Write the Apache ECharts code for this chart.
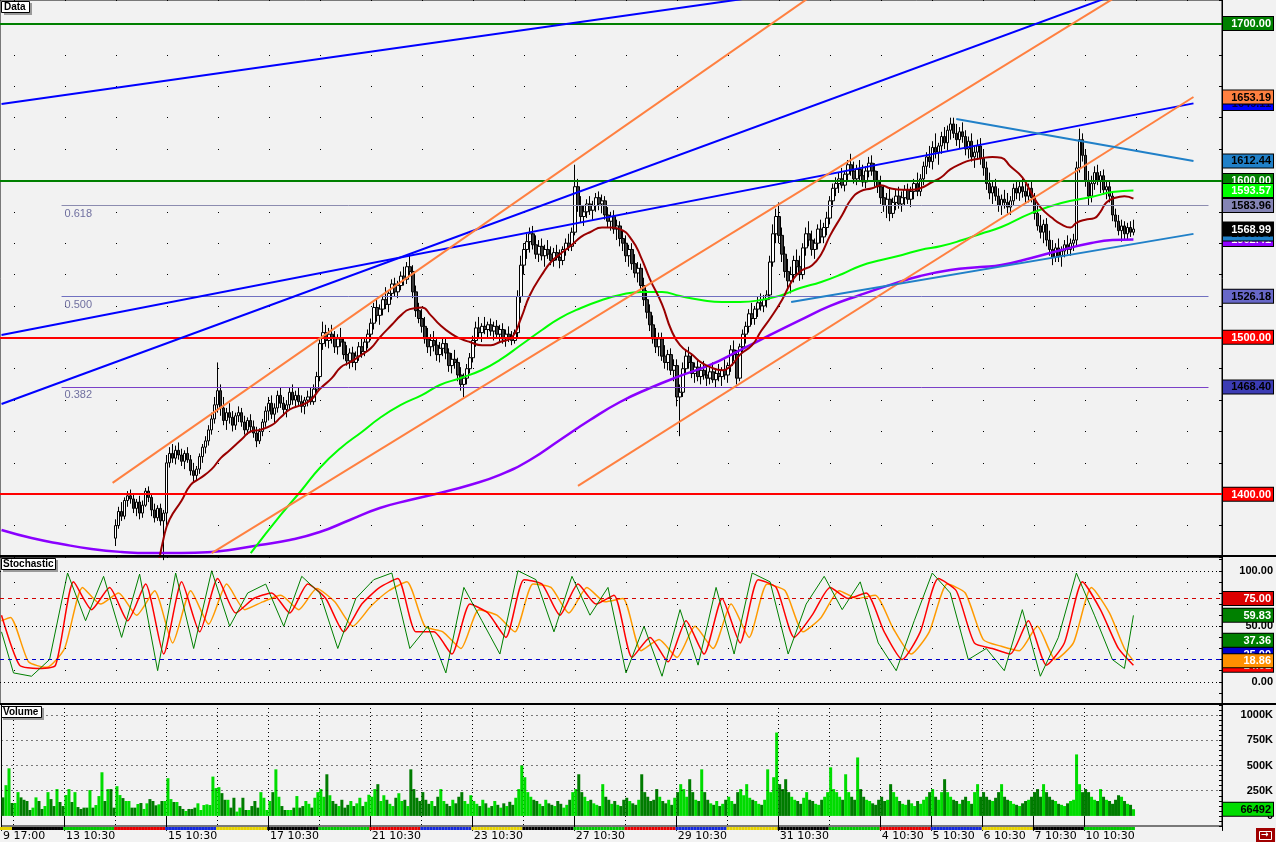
<!DOCTYPE html>
<html><head><meta charset="utf-8">
<script src="https://cdn.jsdelivr.net/npm/echarts@6/dist/echarts.min.js"></script>
<style>html,body{margin:0;padding:0;background:#f2f2f2;}#c{width:1276px;height:842px;}</style>
</head><body><div id="c"></div>
<script>
// ---------------- DATA ----------------
// trading days: [day, first bar time, bars, weekday, labelled]
const dayList = [
 ['9','17:00',4,'Thu',1],['10','10:30',17,'Fri',0],['13','10:30',17,'Mon',1],['14','10:30',17,'Tue',0],
 ['15','10:30',17,'Wed',1],['16','10:30',17,'Thu',0],['17','10:30',17,'Fri',1],['20','10:30',17,'Mon',0],
 ['21','10:30',17,'Tue',1],['22','10:30',17,'Wed',0],['23','10:30',17,'Thu',1],['24','10:30',17,'Fri',0],
 ['27','10:30',17,'Mon',1],['28','10:30',17,'Tue',0],['29','10:30',17,'Wed',1],['30','10:30',17,'Thu',0],
 ['31','10:30',17,'Fri',1],['3','10:30',17,'Mon',0],['4','10:30',17,'Tue',1],['5','10:30',17,'Wed',1],
 ['6','10:30',17,'Thu',1],['7','10:30',17,'Fri',1],['10','10:30',17,'Mon',1]
];
const sessionTimes = ['10:30','11:00','11:30','12:00','12:30','13:00','13:30','14:00','14:30','15:00','15:30','16:00','16:30','17:00','17:30','18:00','18:30'];
const emptySlots = 29;

// OHLC rows: [open, high, low, close]
const ohlc = [
[1350,1352,1344,1346],[1346,1350,1343,1348],[1348,1352,1340,1350],[1350,1351,1339,1342],
[1342,1347,1340,1345],[1345,1349,1341,1347],[1347,1348,1340,1343],[1343,1345,1337,1340],[1340,1342,1335,1338],[1338,1340,1334,1336],
[1336,1341,1334,1339],[1339,1343,1337,1341],[1341,1342,1336,1338],[1338,1340,1333,1336],[1336,1341,1334,1339],[1339,1345,1337,1343],
[1343,1344,1338,1340],[1340,1342,1336,1338],[1338,1346,1337,1344],[1344,1347,1340,1342],[1342,1344,1338,1340],
[1340,1349,1339,1347],[1347,1355,1345,1353],[1353,1356,1348,1351],[1351,1357,1349,1355],[1355,1357,1350,1353],[1353,1355,1348,1350],
[1350,1352,1346,1348],[1348,1350,1344,1346],[1346,1353,1345,1351],[1351,1353,1346,1349],[1349,1354,1347,1352],[1352,1357,1350,1355],
[1355,1359,1353,1358],[1358,1359,1353,1356],[1356,1359,1354,1358],[1358,1359,1352,1355],[1355,1357,1350,1353],
[1372,1384,1367,1380],[1380,1392,1378,1389],[1389,1395,1383,1386],[1386,1398,1384,1396],[1396,1402,1392,1399],[1399,1403,1394,1397],
[1397,1400,1388,1391],[1391,1397,1386,1395],[1395,1399,1384,1388],[1388,1396,1385,1393],[1393,1404,1392,1402],[1402,1405,1395,1398],
[1398,1400,1386,1390],[1390,1394,1382,1385],[1385,1393,1383,1391],[1391,1394,1380,1383],[1383,1390,1358,1388],
[1388,1425,1380,1420],[1420,1430,1417,1426],[1426,1432,1420,1423],[1423,1431,1419,1428],[1428,1433,1422,1425],[1425,1429,1418,1421],
[1421,1428,1416,1426],[1426,1430,1420,1422],[1422,1425,1412,1415],[1415,1420,1408,1412],[1412,1418,1409,1416],[1416,1426,1413,1424],
[1424,1432,1420,1430],[1430,1437,1426,1434],[1434,1444,1431,1441],[1441,1452,1438,1448],[1448,1462,1445,1457],
[1457,1484,1452,1466],[1466,1470,1450,1455],[1455,1462,1444,1447],[1447,1455,1441,1452],[1452,1458,1445,1449],[1449,1453,1440,1444],
[1444,1452,1441,1450],[1450,1456,1446,1452],[1452,1455,1443,1446],[1446,1450,1438,1441],[1441,1449,1438,1447],[1447,1451,1440,1443],
[1443,1447,1436,1439],[1439,1443,1430,1434],[1434,1442,1432,1440],[1440,1448,1437,1446],[1446,1456,1443,1453],
[1453,1462,1447,1458],[1458,1463,1448,1451],[1451,1458,1445,1455],[1455,1466,1452,1463],[1463,1468,1455,1458],[1458,1462,1450,1454],
[1454,1460,1449,1457],[1457,1468,1454,1465],[1465,1470,1457,1460],[1460,1466,1455,1463],[1463,1468,1456,1459],[1459,1463,1452,1456],
[1456,1462,1451,1460],[1460,1466,1456,1462],[1462,1468,1457,1459],[1459,1470,1457,1467],[1467,1478,1464,1475],
[1475,1500,1472,1496],[1496,1510,1492,1503],[1503,1508,1494,1498],[1498,1506,1493,1502],[1502,1508,1496,1500],[1500,1504,1490,1494],
[1494,1502,1489,1499],[1499,1506,1494,1497],[1497,1500,1486,1489],[1489,1495,1482,1485],[1485,1493,1480,1490],[1490,1494,1481,1484],
[1484,1491,1479,1488],[1488,1497,1485,1494],[1494,1499,1487,1491],[1491,1500,1488,1497],[1497,1505,1493,1502],
[1502,1512,1498,1509],[1509,1522,1505,1519],[1519,1525,1510,1514],[1514,1521,1508,1518],[1518,1527,1514,1524],[1524,1532,1518,1521],
[1521,1530,1516,1528],[1528,1537,1524,1534],[1534,1538,1526,1529],[1529,1536,1525,1533],[1533,1542,1530,1539],[1539,1545,1533,1537],
[1537,1548,1534,1545],[1545,1552,1539,1542],[1542,1546,1525,1529],[1529,1533,1513,1517],[1517,1522,1509,1512],
[1512,1518,1503,1507],[1507,1513,1496,1499],[1499,1506,1490,1494],[1494,1502,1488,1498],[1498,1504,1491,1495],[1495,1500,1485,1489],
[1489,1497,1484,1493],[1493,1499,1488,1496],[1496,1500,1486,1490],[1490,1493,1478,1482],[1482,1490,1477,1486],[1486,1492,1480,1484],
[1484,1487,1472,1476],[1476,1481,1466,1470],[1470,1477,1462,1474],[1474,1483,1470,1480],[1480,1490,1477,1487],
[1487,1501,1484,1498],[1498,1510,1494,1506],[1506,1513,1500,1503],[1503,1509,1497,1507],[1507,1513,1502,1505],[1505,1510,1499,1508],
[1508,1512,1501,1504],[1504,1510,1498,1507],[1507,1511,1499,1502],[1502,1508,1497,1505],[1505,1509,1496,1499],[1499,1505,1494,1502],
[1502,1507,1497,1500],[1500,1504,1495,1498],[1498,1505,1496,1503],[1503,1530,1500,1526],[1526,1552,1522,1546],
[1546,1560,1540,1556],[1556,1566,1550,1561],[1561,1570,1554,1566],[1566,1571,1556,1559],[1559,1565,1550,1553],[1553,1562,1548,1558],
[1558,1563,1549,1552],[1552,1559,1545,1556],[1556,1562,1550,1553],[1553,1558,1546,1549],[1549,1557,1545,1554],[1554,1559,1549,1551],
[1551,1556,1544,1549],[1549,1558,1546,1556],[1556,1563,1552,1560],[1560,1566,1555,1558],[1558,1570,1555,1567],
[1567,1610,1565,1596],[1596,1601,1580,1584],[1584,1590,1573,1577],[1577,1584,1571,1580],[1580,1588,1576,1585],[1585,1590,1578,1581],
[1581,1587,1575,1584],[1584,1592,1580,1589],[1589,1593,1581,1585],[1585,1591,1579,1587],[1587,1590,1575,1578],[1578,1583,1570,1574],
[1574,1580,1568,1577],[1577,1581,1566,1569],[1569,1575,1562,1571],[1571,1574,1558,1563],[1563,1568,1555,1560],
[1560,1565,1548,1552],[1552,1559,1545,1556],[1556,1560,1543,1547],[1547,1553,1538,1541],[1541,1548,1535,1544],[1544,1547,1530,1533],
[1533,1538,1520,1524],[1524,1530,1512,1516],[1516,1521,1504,1508],[1508,1514,1496,1499],[1499,1506,1490,1494],[1494,1503,1488,1499],
[1499,1503,1485,1488],[1488,1495,1480,1484],[1484,1492,1479,1489],[1489,1493,1476,1479],[1479,1486,1472,1482],
[1482,1486,1456,1462],[1462,1470,1437,1465],[1465,1484,1462,1480],[1480,1492,1476,1488],[1488,1494,1480,1484],[1484,1490,1474,1477],
[1477,1484,1471,1481],[1481,1486,1472,1475],[1475,1483,1470,1479],[1479,1485,1473,1476],[1476,1482,1469,1474],[1474,1481,1470,1478],
[1478,1484,1471,1473],[1473,1480,1468,1477],[1477,1483,1472,1475],[1475,1481,1469,1479],[1479,1486,1473,1476],
[1476,1484,1471,1482],[1482,1495,1478,1492],[1492,1498,1485,1489],[1489,1492,1470,1474],[1474,1496,1472,1494],[1494,1505,1490,1502],
[1502,1510,1496,1507],[1507,1518,1503,1515],[1515,1522,1508,1512],[1512,1520,1508,1518],[1518,1526,1513,1522],[1522,1528,1517,1520],
[1520,1527,1516,1524],[1524,1530,1519,1527],[1527,1552,1524,1548],[1548,1572,1545,1566],[1566,1582,1560,1577],
[1577,1586,1560,1565],[1565,1570,1548,1553],[1553,1558,1538,1542],[1542,1550,1530,1536],[1536,1545,1528,1540],[1540,1552,1535,1549],
[1549,1556,1540,1545],[1545,1552,1536,1540],[1540,1560,1537,1557],[1557,1570,1552,1566],[1566,1574,1558,1562],[1562,1568,1552,1556],
[1556,1563,1550,1560],[1560,1572,1556,1569],[1569,1575,1560,1564],[1564,1573,1560,1570],[1570,1580,1565,1576],
[1576,1590,1572,1587],[1587,1598,1583,1595],[1595,1602,1590,1598],[1598,1605,1592,1601],[1601,1608,1595,1597],[1597,1606,1593,1604],
[1604,1613,1600,1610],[1610,1617,1603,1606],[1606,1612,1598,1601],[1601,1610,1597,1607],[1607,1613,1600,1603],[1603,1610,1596,1599],
[1599,1609,1595,1606],[1606,1615,1602,1611],[1611,1616,1603,1606],[1606,1611,1596,1600],[1600,1606,1592,1596],
[1596,1603,1585,1589],[1589,1597,1580,1584],[1584,1592,1576,1588],[1588,1595,1574,1579],[1579,1589,1576,1586],[1586,1594,1581,1590],
[1590,1596,1582,1585],[1585,1593,1580,1589],[1589,1597,1584,1594],[1594,1598,1585,1588],[1588,1596,1583,1593],[1593,1601,1588,1598],
[1598,1605,1590,1593],[1593,1604,1590,1601],[1601,1612,1597,1609],[1609,1618,1604,1615],[1615,1622,1608,1612],
[1612,1625,1607,1621],[1621,1630,1614,1618],[1618,1624,1610,1622],[1622,1631,1617,1628],[1628,1634,1620,1624],[1624,1635,1619,1632],
[1632,1640,1626,1636],[1636,1640,1627,1630],[1630,1636,1622,1626],[1626,1634,1620,1631],[1631,1637,1624,1628],[1628,1632,1616,1620],
[1620,1628,1614,1625],[1625,1630,1612,1615],[1615,1622,1608,1618],[1618,1626,1613,1622],[1622,1627,1610,1614],
[1614,1620,1603,1608],[1608,1612,1594,1598],[1598,1605,1588,1592],[1592,1600,1585,1596],[1596,1601,1587,1590],[1590,1595,1580,1584],
[1584,1591,1578,1588],[1588,1594,1582,1586],[1586,1592,1579,1583],[1583,1590,1578,1587],[1587,1598,1584,1595],[1595,1600,1588,1592],
[1592,1599,1587,1596],[1596,1601,1589,1593],[1593,1598,1585,1590],[1590,1598,1586,1595],[1595,1599,1586,1589],
[1589,1592,1575,1579],[1579,1585,1568,1571],[1571,1578,1563,1567],[1567,1575,1560,1572],[1572,1576,1558,1562],[1562,1568,1552,1556],
[1556,1562,1546,1551],[1551,1560,1548,1557],[1557,1563,1548,1552],[1552,1558,1545,1555],[1555,1562,1551,1559],[1559,1565,1553,1556],
[1556,1563,1552,1560],[1560,1566,1555,1562],[1562,1612,1558,1608],[1608,1633,1605,1626],[1626,1630,1612,1616],
[1616,1620,1596,1600],[1600,1606,1584,1590],[1590,1603,1586,1598],[1598,1609,1594,1605],[1605,1610,1597,1600],[1600,1606,1592,1603],
[1603,1607,1591,1594],[1594,1600,1588,1596],[1596,1599,1586,1590],[1590,1593,1574,1578],[1578,1582,1570,1574],[1574,1578,1565,1568],
[1568,1575,1561,1571],[1571,1574,1562,1566],[1566,1573,1562,1570],[1570,1574,1564,1567],[1567,1575,1565,1568.99]
];

// volume, thousands
const volumeK = [
184,305,472,128,128,236,184,160,148,59, 82,184,148,69,98,236,167,98,266,138,
98,207,266,138,236,88,69,82,82,256, 82,108,197,433,148,266,266,82,295,207,
177,148,148,82,82,118,128,69,125,167, 148,105,115,148,148,374,167,138,138,98,
69,49,69,69,82,125,59,108,115,108, 390,276,285,226,160,160,82,180,43,82,
180,59,59,98,148,82,236,180,59,148, 236,462,190,98,59,59,59,82,197,82,
98,148,120,82,180,236,
266,190,413,205,148,120,98,160,82,110,148,98,125,180,98,140,210,
190,266,315,148,205,160,120,98,180,225,148,160,98,462,266,180,148,
236,160,120,148,98,190,266,148,120,98,160,125,190,236,148,120,205,
148,120,98,160,125,82,98,148,110,82,125,98,140,110,180,266,502,
384,236,190,160,148,120,98,160,125,110,98,148,120,82,110,160,236,
266,413,236,190,148,160,125,110,98,315,190,160,120,148,110,98,160,
180,148,125,110,160,413,236,190,148,160,266,190,148,125,160,110,180,
236,315,266,190,364,236,160,148,462,236,160,125,110,148,98,120,160,
190,148,120,236,266,205,315,180,160,148,120,110,160,462,236,384,827,
315,266,364,236,190,160,148,120,180,236,160,148,120,110,160,190,236,
482,266,236,190,160,413,236,190,160,580,266,190,160,148,125,110,160,
190,148,160,315,236,190,148,120,110,160,125,98,148,120,160,190,236,
266,190,160,236,364,236,190,160,148,120,160,190,148,120,236,315,190,
236,190,160,148,180,236,315,190,160,148,120,110,98,125,148,160,190,
236,266,190,315,236,190,160,148,120,110,98,125,148,160,610,315,236,
266,236,190,160,148,266,190,160,148,120,160,205,190,148,120,110,66.492
];

// moving averages: [bar index, value]
const maDarkRed = [[52,1352],[54,1372],[56,1384],[60,1396],[63,1406],[66,1410],[70,1416],[73,1423],[76,1428],[80,1435],[83,1440],[86,1441],[90,1444],[93,1449],[96,1454],[100,1457],[103,1460],[106,1467],[110,1474],[113,1481],[116,1484],[120,1489],[123,1493],[126,1500],[130,1508],[133,1514],[136,1518],[140,1519],[143,1514],[146,1508],[150,1502],[153,1499],[156,1497],[160,1495],[163,1495],[166,1497],[170,1500],[173,1512],[176,1527],[180,1540],[183,1548],[186,1553],[190,1559],[193,1564],[196,1567],[200,1570],[203,1570],[206,1569],[210,1562],[213,1551],[216,1537],[220,1521],[223,1505],[226,1495],[230,1489],[233,1484],[236,1481],[240,1479],[243,1482],[246,1489],[250,1495],[253,1504],[256,1512],[260,1524],[263,1535],[266,1542],[270,1546],[273,1553],[276,1565],[280,1578],[283,1588],[286,1593],[290,1595],[293,1597],[296,1595],[300,1594],[303,1594],[306,1595],[310,1599],[313,1602],[316,1607],[320,1611],[323,1613],[326,1614],[330,1615],[333,1614.5],[336,1609],[340,1602],[343,1592],[346,1583],[350,1576],[353,1572],[356,1570],[358,1573],[361,1575],[364,1576],[366,1580],[368,1586],[371,1589],[374,1590],[377,1588.4]];
const maGreen = [[83,1362.5],[93,1386.8],[100,1402.7],[106,1416.7],[113,1429.5],[120,1439.7],[126,1448.6],[133,1456.9],[140,1463.2],[146,1469.6],[153,1474.1],[160,1479.2],[166,1485.6],[173,1495.1],[180,1504.7],[186,1512.3],[193,1518.7],[200,1523.8],[206,1527],[213,1528.9],[220,1528.9],[226,1526.3],[233,1523.8],[240,1522.5],[246,1522.5],[253,1523.8],[260,1527],[266,1531.4],[273,1535.3],[280,1540.4],[286,1545.5],[293,1549.3],[300,1552.5],[306,1555.7],[313,1558.2],[320,1562],[326,1565.9],[333,1570.3],[343,1579.2],[353,1585.6],[363,1589.4],[370,1592.6],[377,1593.57]];
const maPurple = [[0,1377.2],[10,1372.1],[20,1368.3],[30,1365.1],[40,1363.2],[50,1362.5],[60,1362.5],[70,1363.2],[76,1364.5],[86,1367.6],[96,1370.8],[106,1375.9],[116,1383.6],[126,1391.2],[136,1396.3],[146,1400.8],[156,1405.9],[166,1412.3],[176,1421.8],[186,1434.6],[196,1447.3],[206,1458.8],[216,1467.7],[226,1475.4],[236,1482.4],[246,1491.9],[256,1501.5],[266,1511],[276,1520],[286,1527],[296,1533.4],[306,1539.1],[316,1542.9],[326,1544.8],[333,1546.1],[343,1550.6],[353,1555.7],[363,1560.1],[370,1562],[377,1562.41]];

// drawn trend lines: [bar0, price0, bar1, price1]
const blueLines = [[-0.5,1648.7,250,1716.5],[-0.5,1457.5,370,1717.7],[-0.5,1501.5,397.2,1649.11]];
const orangeLines = [[37.2,1407.2,270,1717.9],[69.5,1362.5,372,1717.9],[192.2,1405.3,397.2,1653.19]];
const steelLines = [[317.8,1639.2,397.2,1612.44],[262.8,1522.5,397.2,1565.94]];
const hLevelsGreen = [1700, 1600];
const hLevelsRed = [1500, 1400];
const fibNames = ['0.618','0.500','0.382'];
const fibPrices = [1583.96, 1526.18, 1468.40];
const fibSpan = [19.5, 401.7];

// right-hand value tags (main panel), in drawing order
const mainTagValues = [1589.10, 1562.41, 1565.94, 1649.11, 1653.19, 1700, 1612.44, 1600, 1593.57, 1583.96, 1568.99, 1526.18, 1500, 1468.40, 1400];

// stochastic lines: [bar index, value]
const stochGreen = [[0,45],[4,8],[10,5],[16,20],[22,98],[28,55],[34,95],[40,40],[46,97],[52,10],[58,98],[64,30],[70,100],[76,50],[82,80],[88,88],[94,50],[100,95],[106,80],[112,30],[118,75],[124,92],[130,98],[136,30],[142,50],[148,8],[154,85],[160,55],[166,25],[172,100],[178,92],[184,45],[190,95],[196,60],[202,85],[208,8],[214,50],[220,5],[226,65],[232,15],[238,85],[244,25],[250,98],[256,90],[262,25],[268,70],[274,95],[280,65],[286,90],[292,35],[298,10],[304,55],[310,98],[316,80],[322,20],[328,30],[334,10],[340,65],[346,5],[352,40],[358,98],[364,60],[370,20],[374,12],[377,59.83]];
const stochRed = [[0,60],[6,15],[12,12],[18,15],[24,90],[30,65],[36,85],[42,55],[48,88],[54,25],[60,90],[66,45],[72,93],[78,62],[84,75],[90,80],[96,62],[102,88],[108,75],[114,45],[120,70],[126,85],[132,93],[138,45],[144,45],[150,25],[156,70],[162,62],[168,40],[174,92],[180,88],[186,60],[192,88],[198,70],[204,78],[210,22],[216,40],[222,18],[228,55],[234,25],[240,75],[246,35],[252,92],[258,85],[264,40],[270,60],[276,85],[282,75],[288,80],[294,45],[300,20],[306,45],[312,93],[318,82],[324,35],[330,30],[336,25],[342,55],[348,15],[354,35],[360,90],[366,65],[372,30],[377,14.91]];
const stochOrange = [[0,55],[3,58],[9,18],[15,13],[21,30],[27,85],[33,70],[39,80],[45,60],[51,82],[57,35],[63,82],[69,52],[75,88],[81,65],[87,72],[93,78],[99,65],[105,84],[111,72],[117,50],[123,68],[129,82],[135,90],[141,50],[147,45],[153,30],[159,65],[165,60],[171,45],[177,88],[183,85],[189,62],[195,85],[201,72],[207,75],[213,28],[219,38],[225,22],[231,50],[237,30],[243,70],[249,40],[255,88],[261,82],[267,45],[273,58],[279,82],[285,75],[291,78],[297,48],[303,25],[309,45],[315,88],[321,80],[327,38],[333,32],[339,28],[345,50],[351,20],[357,35],[363,85],[369,62],[374,30],[377,18.86]];
const stochLevels = {over:75, under:20, dotted:[0,50,100], faint:[10,30,70,90]};
const stochTagValues = [25, 14.91, 18.86, 37.36, 59.83, 75];
const volumeLevelsK = [250, 500, 750, 1000];

// ---------------- STYLE ----------------
const FONT = '"Liberation Sans", Arial, sans-serif';
const weekdayColors = {Mon:'#00c800', Tue:'#e80000', Wed:'#1428dc', Thu:'#e6d200', Fri:'#000000'};
const mainTagStyle = [['#a00000','#fff'],['#9000ff','#fff'],['#2080c8','#000'],['#0000ff','#000040'],['#ff8040','#000'],
 ['#008000','#fff'],['#2080c8','#000'],['#008000','#fff'],['#00ff00','#fff'],['#8484b4','#000'],['#000000','#fff'],
 ['#6868c8','#000'],['#ff0000','#fff'],['#3c3cb4','#000'],['#ff0000','#fff']];
const fibColors = ['#8c8cb0','#7070c0','#7a40c8'];
const stochTagStyle = [['#0000cc','#fff'],['#ff0000','#fff'],['#ff9000','#fff'],['#008000','#fff'],['#008000','#fff'],['#dd0000','#fff']];
const NOLINE = {color: 'rgba(0,0,0,0)', width: 0};

// ---------------- BUILD ----------------
const cats = [], labelIdx = new Set(), dayStartIdx = new Set(), barDayColor = [];
dayList.forEach(d => {
  const times = sessionTimes.slice(sessionTimes.length - d[2]);
  times.forEach((t, k) => {
    if (k === 0) { dayStartIdx.add(cats.length); if (d[4]) labelIdx.add(cats.length); }
    cats.push(d[0] + ' ' + t);
    barDayColor.push(weekdayColors[d[3]]);
  });
});
for (let i = 0; i < emptySlots; i++) cats.push('');

const candleData = ohlc.map(r => [r[0], r[3], r[2], r[1]]);
const volData = volumeK.map((v, i) => ({value: v, itemStyle: {color: ohlc[i][3] >= ohlc[i][0] ? '#00dc00' : '#007c00'}}));
const stripData = barDayColor.map(c => ({value: 1, itemStyle: {color: c}}));

function tag(text, bg, fg) {
  return {show: true, position: 'end', distance: 1, formatter: '{t|' + text + '}',
    backgroundColor: bg, borderColor: '#000', borderWidth: 1, padding: [1, 2, 0, 1], opacity: 1,
    rich: {t: {width: 47, align: 'right', color: fg, fontSize: 11, fontWeight: 'bold', fontFamily: FONT, lineHeight: 12}}};
}
const hidden = {show: false};

const mainMarks = [];
hLevelsGreen.forEach(v => mainMarks.push({yAxis: v, lineStyle: {color: '#008000', width: 2, type: 'solid'}, label: hidden}));
hLevelsRed.forEach(v => mainMarks.push({yAxis: v, lineStyle: {color: '#ff0000', width: 2, type: 'solid'}, label: hidden}));
fibPrices.forEach((p, i) => mainMarks.push([
  {coord: [fibSpan[0], p], lineStyle: {color: fibColors[i], width: 1, type: 'solid'},
   label: {show: true, position: 'insideStartBottom', formatter: fibNames[i], color: '#7070a0', fontSize: 11, fontFamily: FONT, distance: 3}},
  {coord: [fibSpan[1], p]}]));
mainTagValues.forEach((v, i) => mainMarks.push({yAxis: v, lineStyle: NOLINE, label: tag(v.toFixed(2), mainTagStyle[i][0], mainTagStyle[i][1])}));

const stochMarks = [];
stochLevels.dotted.forEach(v => stochMarks.push({yAxis: v, lineStyle: {color: '#000', width: 1, type: [1, 3]}, label: hidden}));
stochLevels.faint.forEach(v => stochMarks.push({yAxis: v, lineStyle: {color: '#000', width: 1, type: [1, 50], dashOffset: 37}, label: hidden}));
stochMarks.push({yAxis: stochLevels.over, lineStyle: {color: '#d00000', width: 1, type: [4, 4]}, label: hidden});
stochMarks.push({yAxis: stochLevels.under, lineStyle: {color: '#0000c8', width: 1, type: [4, 4]}, label: hidden});
stochTagValues.forEach((v, i) => stochMarks.push({yAxis: v, lineStyle: NOLINE, label: tag(v.toFixed(2), stochTagStyle[i][0], stochTagStyle[i][1])}));

const volMarks = volumeLevelsK.map(v => ({yAxis: v, lineStyle: {color: '#000', width: 1, type: [1, 4]}, label: hidden}));
volMarks.push({yAxis: volumeK[volumeK.length - 1], lineStyle: NOLINE, label: tag(String(Math.round(volumeK[volumeK.length - 1] * 1000)), '#00dc00', '#000')});

function lineSeries(pairs, color, width, z) {
  return {type: 'line', xAxisIndex: 0, yAxisIndex: 0, data: pairs, showSymbol: false, smooth: true,
    lineStyle: {color, width}, z, silent: true, animation: false, clip: true};
}
function segSeries(seg, color, width) {
  return {type: 'line', xAxisIndex: 0, yAxisIndex: 0, data: [[seg[0], seg[1]], [seg[2], seg[3]]], showSymbol: false,
    lineStyle: {color, width}, z: 5, silent: true, animation: false, clip: true};
}
function stochSeries(pairs, color, width, smooth) {
  return {type: 'line', xAxisIndex: 1, yAxisIndex: 1, data: pairs, showSymbol: false, smooth: smooth,
    lineStyle: {color, width}, z: 3, silent: true, animation: false, clip: true};
}
const markBase = {silent: true, symbol: ['none', 'none'], animation: false, emphasis: {disabled: true}};

const xBase = {type: 'category', data: cats, boundaryGap: true, axisLine: {show: false}, axisTick: {show: false},
  axisLabel: {show: false}, splitLine: {show: false}};
const W = 1222;

const option = {
  backgroundColor: '#f2f2f2',
  animation: false,
  textStyle: {fontFamily: FONT},
  grid: [
    {left: 0, top: 0, width: W, height: 557, show: true, borderColor: '#000', borderWidth: 1, backgroundColor: 'transparent'},
    {left: 0, top: 557, width: W, height: 147, show: true, borderColor: '#000', borderWidth: 1, backgroundColor: 'transparent'},
    {left: 0, top: 704, width: W, height: 123, show: true, borderColor: '#000', borderWidth: 1, backgroundColor: 'transparent'},
    {left: 0, top: 827, width: W, height: 3, show: false}
  ],
  xAxis: [
    Object.assign({}, xBase, {gridIndex: 0}),
    Object.assign({}, xBase, {gridIndex: 1}),
    Object.assign({}, xBase, {gridIndex: 2,
      axisTick: {show: true, interval: (i) => labelIdx.has(i), length: 15, lineStyle: {color: '#000'}},
      axisLabel: {show: true, interval: (i) => labelIdx.has(i), align: 'left', margin: 5, color: '#000', fontSize: 11, fontFamily: '"DejaVu Sans", sans-serif'},
      splitLine: {show: true, interval: (i) => dayStartIdx.has(i), lineStyle: {color: '#000', width: 1, type: [1, 3]}}}),
    Object.assign({}, xBase, {gridIndex: 3})
  ],
  yAxis: [
    {type: 'value', gridIndex: 0, position: 'right', min: 1360, max: 1715, interval: 20,
      axisLine: {show: true, lineStyle: {color: '#000'}}, axisTick: {show: true, inside: true, length: 3, lineStyle: {color: '#000'}},
      axisLabel: {show: false},
      splitLine: {show: true, lineStyle: {color: '#000', width: 1, type: [1, 50], dashOffset: 37}}},
    {type: 'value', gridIndex: 1, position: 'right', min: -20, max: 112.4, interval: 10,
      axisLine: {show: true, lineStyle: {color: '#000'}}, axisTick: {show: true, inside: true, length: 3, lineStyle: {color: '#000'}},
      axisLabel: {show: true, align: 'right', margin: 51, color: '#000', fontSize: 11, fontWeight: 'bold', fontFamily: FONT,
        formatter: v => (v === 0 || v === 50 || v === 100) ? v.toFixed(2) : ''},
      splitLine: {show: false}},
    {type: 'value', gridIndex: 2, position: 'right', min: -100, max: 1110, interval: 50,
      axisLine: {show: true, lineStyle: {color: '#000'}}, axisTick: {show: true, inside: true, length: 3, lineStyle: {color: '#000'}},
      axisLabel: {show: true, align: 'right', margin: 51, color: '#000', fontSize: 11, fontWeight: 'bold', fontFamily: FONT,
        formatter: v => (v >= 0 && v % 250 === 0) ? (v === 0 ? '0' : v + 'K') : ''},
      splitLine: {show: false}},
    {type: 'value', gridIndex: 3, min: 0, max: 1, show: false}
  ],
  series: [
    {type: 'candlestick', xAxisIndex: 0, yAxisIndex: 0, data: candleData, barWidth: 3, clip: true, z: 2, silent: true,
      itemStyle: {color: '#ffffff', color0: '#3a3a3a', borderColor: '#000', borderColor0: '#000', borderWidth: 1},
      markLine: Object.assign({}, markBase, {data: mainMarks})},
    lineSeries(maPurple, '#8a00ff', 2.5, 3),
    lineSeries(maGreen, '#00ff00', 2, 3),
    lineSeries(maDarkRed, '#990000', 2, 3),
    ...blueLines.map(s => segSeries(s, '#0000ff', 2)),
    ...orangeLines.map(s => segSeries(s, '#ff8040', 2)),
    ...steelLines.map(s => segSeries(s, '#2080c8', 2)),
    stochSeries(stochOrange, '#ff9a00', 1.5, 0.2),
    stochSeries(stochRed, '#ff0000', 1.5, 0.2),
    Object.assign(stochSeries(stochGreen, '#008000', 1, false), {markLine: Object.assign({}, markBase, {data: stochMarks})}),
    {type: 'bar', xAxisIndex: 2, yAxisIndex: 2, data: volData, barWidth: 3, barGap: '0%', silent: true, z: 2,
      markLine: Object.assign({}, markBase, {data: volMarks})},
    {type: 'bar', xAxisIndex: 3, yAxisIndex: 3, data: stripData, barWidth: 3, silent: true}
  ],
  graphic: [
    {type: 'line', shape: {x1: 0, y1: 556, x2: 1276, y2: 556}, style: {stroke: '#000', lineWidth: 2}, z: 90},
    {type: 'line', shape: {x1: 0, y1: 704, x2: 1276, y2: 704}, style: {stroke: '#000', lineWidth: 2}, z: 90},
    {type: 'rect', shape: {x: 4, y: 3, width: 28, height: 12}, style: {fill: '#9a9a9a'}, z: 100},
    {type: 'rect', shape: {x: 1.5, y: 1.5, width: 28, height: 11}, style: {fill: '#fff', stroke: '#000', lineWidth: 1}, z: 101},
    {type: 'text', x: 4, y: 2, style: {text: 'Data', font: 'bold 10px ' + FONT, fill: '#000'}, z: 102},
    {type: 'rect', shape: {x: 3, y: 560, width: 55, height: 12}, style: {fill: '#9a9a9a'}, z: 100},
    {type: 'rect', shape: {x: 1.5, y: 558.5, width: 54, height: 11}, style: {fill: '#fff', stroke: '#000', lineWidth: 1}, z: 101},
    {type: 'text', x: 3, y: 559.5, style: {text: 'Stochastic', font: 'bold 10px ' + FONT, fill: '#000'}, z: 102},
    {type: 'rect', shape: {x: 3, y: 708, width: 41, height: 12}, style: {fill: '#9a9a9a'}, z: 100},
    {type: 'rect', shape: {x: 1.5, y: 706.5, width: 40, height: 11}, style: {fill: '#fff', stroke: '#000', lineWidth: 1}, z: 101},
    {type: 'text', x: 3, y: 707.5, style: {text: 'Volume', font: 'bold 10px ' + FONT, fill: '#000'}, z: 102},
    {type: 'rect', shape: {x: 1256, y: 828, width: 19, height: 14}, style: {fill: '#a00000'}, z: 100},
    {type: 'rect', shape: {x: 1259.5, y: 831.5, width: 12, height: 8}, style: {fill: 'none', stroke: '#fff', lineWidth: 1}, z: 101},
    {type: 'text', x: 1261, y: 830, style: {text: '→', font: 'bold 9px "DejaVu Sans"', fill: '#fff'}, z: 102}
  ]
};
const chart = echarts.init(document.getElementById('c'), null, {renderer: 'canvas', width: 1276, height: 842});
chart.setOption(option);
</script></body></html>
